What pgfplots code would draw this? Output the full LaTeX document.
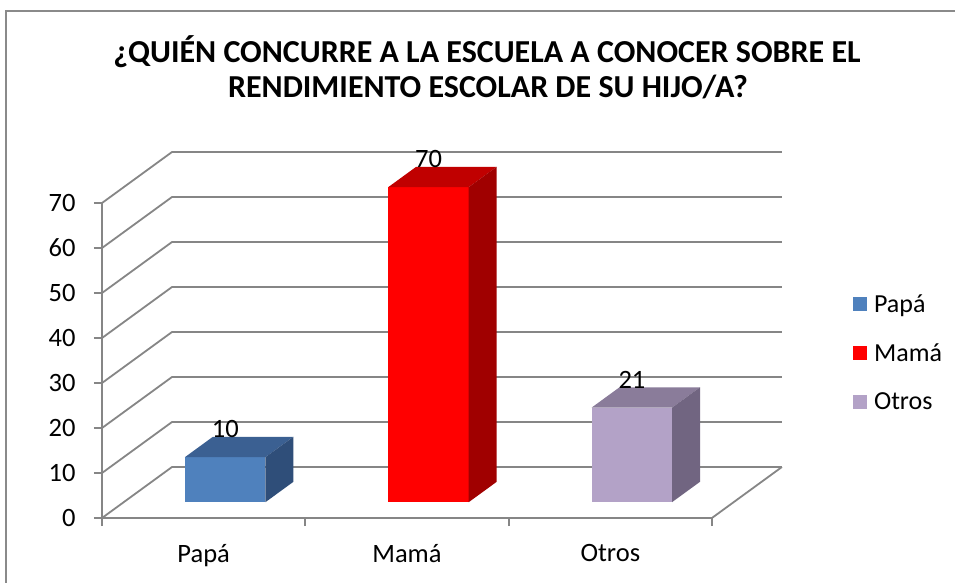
\documentclass[border=0pt]{standalone}
\usepackage{pgfplots}
\pgfplotsset{compat=1.18}
\usepackage{pgfplotstable}
\usepackage{fontspec}
\setmainfont{Carlito}
\definecolor{gridc}{HTML}{868686}
\definecolor{framec}{HTML}{8A8A8A}
\definecolor{papaF}{HTML}{4F81BD}
\definecolor{papaT}{HTML}{3B6092}
\definecolor{papaS}{HTML}{2F4E79}
\definecolor{mamaF}{HTML}{FF0000}
\definecolor{mamaT}{HTML}{C00000}
\definecolor{mamaS}{HTML}{A00000}
\definecolor{otroF}{HTML}{B3A2C7}
\definecolor{otroT}{HTML}{8A7C9A}
\definecolor{otroS}{HTML}{716581}

\pgfplotstableread{
pos val
0.5 10
1.5 70
2.5 21
}\datatable
\pgfplotstablegetelem{0}{val}\of\datatable \let\vA\pgfplotsretval
\pgfplotstablegetelem{1}{val}\of\datatable \let\vB\pgfplotsretval
\pgfplotstablegetelem{2}{val}\of\datatable \let\vC\pgfplotsretval

% cuboid: #1 center, #2 value, #3 front, #4 top, #5 side
\newcommand{\cuboid}[5]{%
  \pgfmathsetmacro\xa{#1-0.199}%
  \pgfmathsetmacro\xb{#1+0.197}%
  \edef\temp{\noexpand\addplot3[fill=#3, draw=none] coordinates {(\xa,0.31,0) (\xb,0.31,0) (\xb,0.31,#2) (\xa,0.31,#2)} -- cycle;}\temp
  \edef\temp{\noexpand\addplot3[fill=#4, draw=none] coordinates {(\xa,0.31,#2) (\xb,0.31,#2) (\xb,0.71,#2) (\xa,0.71,#2)} -- cycle;}\temp
  \edef\temp{\noexpand\addplot3[fill=#5, draw=none] coordinates {(\xb,0.31,0) (\xb,0.71,0) (\xb,0.71,#2) (\xb,0.31,#2)} -- cycle;}\temp
}

\begin{document}
\begin{tikzpicture}[x=1pt,y=1pt]
\clip (0,0) rectangle (955,582);
\fill[white] (0,0) rectangle (955,582);
\draw[framec, line width=2pt] (6,-20) -- (6,571) -- (975,571);

\node[anchor=base, font=\fontsize{32}{38}\selectfont\bfseries] at (487,519) {¿QUIÉN CONCURRE A LA ESCUELA A CONOCER SOBRE EL};
\node[anchor=base, font=\fontsize{32}{38}\selectfont\bfseries] at (488,484) {RENDIMIENTO ESCOLAR DE SU HIJO/A?};

% 3D part: walls, grid and bars
\begin{axis}[
  at={(102pt,64pt)}, anchor=origin,
  x={(203.3pt,0pt)}, y={(70pt,51pt)}, z={(0pt,4.5pt)},
  xmin=0, xmax=3, ymin=0, ymax=1, zmin=0, zmax=70,
  hide axis, clip=false,
]
\pgfplotsinvokeforeach{0,10,...,70}{
  \draw[gridc, line width=1.8pt] (axis cs:0,0,#1) -- (axis cs:0,1,#1) -- (axis cs:3,1,#1);
}
\draw[gridc, line width=1.8pt] (axis cs:3,0,0) -- (axis cs:3,1,0);
\cuboid{0.5}{\vA}{papaF}{papaT}{papaS}
\cuboid{1.5}{\vB}{mamaF}{mamaT}{mamaS}
\cuboid{2.5}{\vC}{otroF}{otroT}{otroS}
\addplot3[draw=none, mark=none, point meta=z, nodes near coords,
  nodes near coords style={anchor=base, inner sep=0pt, xshift=-28pt, yshift=-1pt,
    font=\fontsize{26.5}{31}\selectfont, text=black,
    /pgf/number format/assume math mode=true}]
  table[x=pos, y expr=0.71, z=val] {\datatable};
\end{axis}

% front plane axis: lines, ticks, labels, legend
\begin{axis}[
  at={(102pt,64pt)}, anchor=origin,
  scale only axis, width=610pt, height=315pt,
  xmin=0, xmax=3, ymin=0, ymax=70,
  axis lines=left, axis line style={-, gridc, line width=1.8pt},
  tick style={gridc, line width=1.8pt},
  tick align=outside, major tick length=8pt,
  ytick={0,10,...,70}, xtick={0,1,2,3},
  x tick label as interval, xticklabels={Papá,Mamá,Otros},
  ticklabel style={font=\fontsize{26.5}{31}\selectfont, text=black},
  yticklabel style={xshift=-15pt},
  xticklabel style={yshift=-15pt},
  /pgf/number format/assume math mode=true,
  clip=false,
  legend style={at={(1.226,0.524)}, anchor=west, draw=none, fill=none,
    font=\fontsize{26}{31}\selectfont, row sep=26pt},
  legend cell align=left,
]
\addlegendimage{legend image code/.code={\path[draw=none, fill=none] (0pt,0pt) -- (19pt,0pt); \fill[papaF, draw=none] (0pt,-7pt) rectangle (14pt,7pt);}}
\addlegendentry{Papá}
\addlegendimage{legend image code/.code={\path[draw=none, fill=none] (0pt,0pt) -- (19pt,0pt); \fill[mamaF, draw=none] (0pt,-7pt) rectangle (14pt,7pt);}}
\addlegendentry{Mamá}
\addlegendimage{legend image code/.code={\path[draw=none, fill=none] (0pt,0pt) -- (19pt,0pt); \fill[otroF, draw=none] (0pt,-7pt) rectangle (14pt,7pt);}}
\addlegendentry{Otros}
\end{axis}
\end{tikzpicture}
\end{document}
